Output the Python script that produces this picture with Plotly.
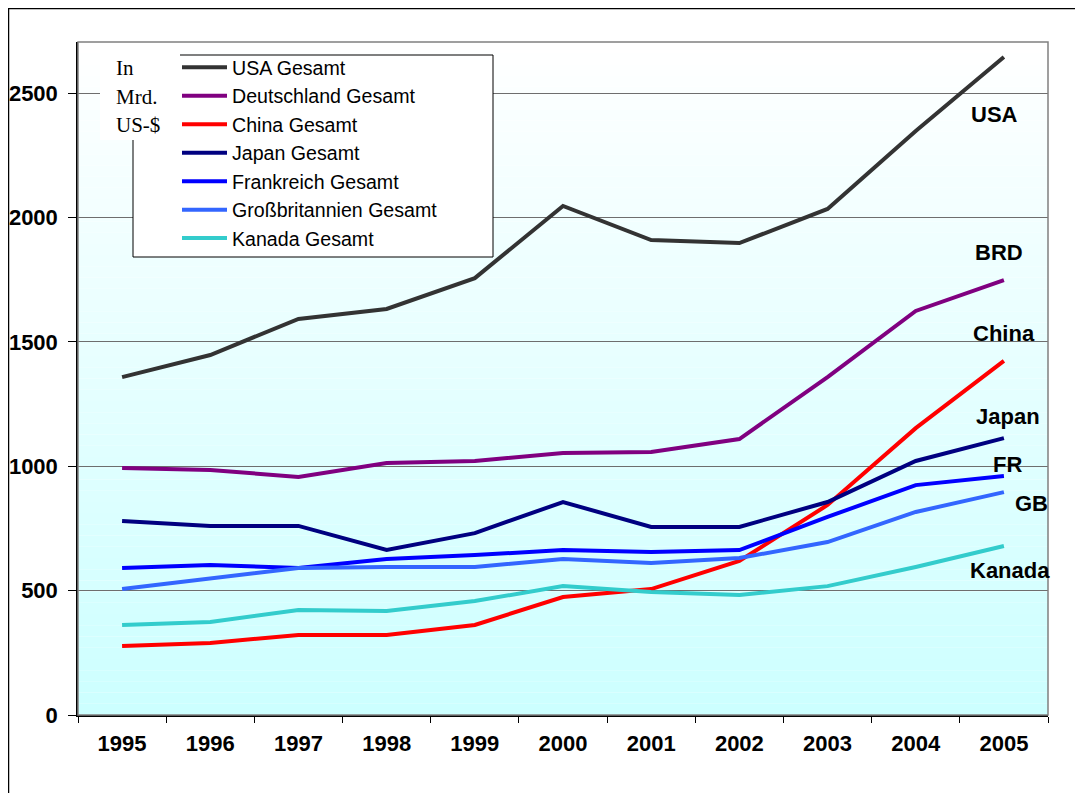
import plotly.graph_objects as go

years = ["1995", "1996", "1997", "1998", "1999", "2000", "2001", "2002", "2003", "2004", "2005"]

usa = [1358, 1447, 1592, 1632, 1756, 2046, 1909, 1897, 2034, 2347, 2645]
deutschland = [993, 985, 957, 1013, 1021, 1053, 1057, 1109, 1358, 1624, 1748]
china = [277, 289, 322, 322, 362, 474, 506, 619, 844, 1153, 1423]
japan = [780, 760, 760, 663, 731, 856, 756, 756, 856, 1021, 1113]
frankreich = [591, 603, 591, 627, 643, 663, 655, 663, 796, 924, 961]
grossbritannien = [506, 547, 591, 595, 595, 627, 611, 631, 695, 816, 896]
kanada = [362, 374, 422, 418, 458, 518, 494, 482, 518, 595, 679]

series = [
    ("USA Gesamt", usa, "#333333"),
    ("Deutschland Gesamt", deutschland, "#800080"),
    ("China Gesamt", china, "#FF0000"),
    ("Japan Gesamt", japan, "#000080"),
    ("Frankreich Gesamt", frankreich, "#0000FF"),
    ("Großbritannien Gesamt", grossbritannien, "#3366FF"),
    ("Kanada Gesamt", kanada, "#33CCCC"),
]

end_labels = ["USA", "BRD", "China", "Japan", "FR", "GB", "Kanada"]
# label positions on the page in pixels (x center, y center)
end_label_pos = [(994, 115), (999, 252), (1004, 333), (1008, 416), (1007, 464), (1031, 503), (1010, 570)]

# page has an 8px body margin, figure sits at (8, 8)
OFF = 8
W, H = 1075, 785
L, T = 78 - OFF, 42 - OFF
R = W - (1048 - OFF)
B = H - (715 - OFF)
PW, PH = W - L - R, H - T - B


def px(x):
    return (x - OFF - L) / PW


def py(y):
    return (H - B - (y - OFF)) / PH


FONT = "Arial, Liberation Sans, sans-serif"

fig = go.Figure()

for i, (name, vals, col) in enumerate(series):
    fig.add_trace(go.Scatter(
        x=years, y=vals, mode="lines", name=name,
        line=dict(color=col, width=4),
        legendgroup=f"g{i}",
    ))

shapes = []
# gradient background (white at top -> light cyan at bottom)
n = 60
for k in range(n):
    t = (k + 0.5) / n
    g = int(round(255 - (255 - 204) * (1 - t)))
    shapes.append(dict(type="rect", xref="paper", yref="paper",
                       x0=0, x1=1, y0=k / n, y1=(k + 1) / n,
                       fillcolor=f"rgb({g},255,255)", line=dict(width=0), layer="below"))
# plot area frame
shapes.append(dict(type="rect", xref="paper", yref="paper", x0=0, x1=1, y0=0, y1=1,
                   line=dict(color="#808080", width=1.5), layer="above"))
# outer frame
shapes.append(dict(type="rect", xref="paper", yref="paper",
                   x0=px(8.5), x1=px(1100), y0=py(810), y1=py(8.5),
                   line=dict(color="black", width=1.5), layer="above"))
# legend box
shapes.append(dict(type="rect", xref="paper", yref="paper",
                   x0=px(133), x1=px(493), y0=py(257), y1=py(55),
                   fillcolor="white", line=dict(color="black", width=1), layer="above"))
# unit text box
shapes.append(dict(type="rect", xref="paper", yref="paper",
                   x0=px(100), x1=px(180), y0=py(140), y1=py(50),
                   fillcolor="white", line=dict(width=0), layer="above"))

annotations = []
for txt, (x, y) in zip(end_labels, end_label_pos):
    annotations.append(dict(text=f"<b>{txt}</b>", x=px(x), y=py(y), xref="paper", yref="paper",
                            showarrow=False, font=dict(family=FONT, size=22, color="black"),
                            xanchor="center", yanchor="middle"))
for txt, y in zip(["In", "Mrd.", "US-$"], [68, 97, 125]):
    annotations.append(dict(text=txt, x=px(114), y=py(y), xref="paper", yref="paper",
                            showarrow=False, font=dict(family="Liberation Serif, Times New Roman, serif",
                                                       size=21, color="black"),
                            xanchor="left", yanchor="middle"))

fig.update_layout(
    width=W, height=H,
    margin=dict(l=L, r=R, t=T, b=B),
    paper_bgcolor="white",
    plot_bgcolor="white",
    showlegend=True,
    legend=dict(x=px(177), y=py(48), xanchor="left", yanchor="top",
                font=dict(family=FONT, size=19.6, color="black"),
                bgcolor="rgba(0,0,0,0)", borderwidth=0,
                tracegroupgap=0, itemwidth=45),
    shapes=shapes,
    annotations=annotations,
)

fig.update_xaxes(
    type="category", range=[-0.5, 10.5], tickson="boundaries", ticks="outside", ticklen=6,
    tickcolor="black", showgrid=False, showline=True, linecolor="black", linewidth=1.5,
    tickfont=dict(family=FONT, size=22, color="black"), ticklabelstandoff=8,
    tickprefix="<b>", ticksuffix="</b>", automargin=False,
)
fig.update_yaxes(
    range=[0, 2705], tickvals=[0, 500, 1000, 1500, 2000, 2500],
    ticktext=["<b>0</b>", "<b>500</b>", "<b>1000</b>", "<b>1500</b>", "<b>2000</b>", "<b>2500</b>"],
    ticks="outside", ticklen=8, tickcolor="black",
    showgrid=True, gridcolor="#6E6E6E", gridwidth=1, zeroline=False,
    showline=True, linecolor="black", linewidth=1.5,
    tickfont=dict(family=FONT, size=22, color="black"), ticklabelstandoff=6,
    automargin=False,
)

fig.write_html("out.html")
